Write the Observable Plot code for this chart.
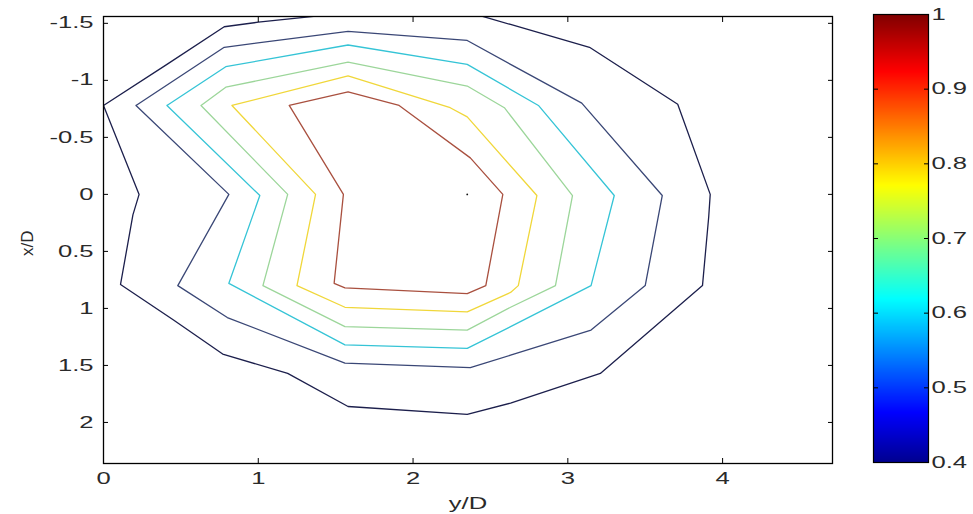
<!DOCTYPE html>
<html>
<head>
<meta charset="utf-8">
<script src="https://cdn.jsdelivr.net/npm/d3@7"></script>
<script src="https://cdn.jsdelivr.net/npm/@observablehq/plot@0.6"></script>
<style>
  html, body { margin: 0; padding: 0; background: #fff; }
  #chart { position: relative; width: 973px; height: 514px; }
  #chart svg { position: absolute; left: 0; top: 0; overflow: visible; }
</style>
</head>
<body>
<div id="chart"></div>
<script>
// ---- tick labels ----
const xTicks = [0, 1, 2, 3, 4];
const yTicks = [-1.5, -1, -0.5, 0, 0.5, 1, 1.5, 2];
const colorbarTicks = [0.4, 0.5, 0.6, 0.7, 0.8, 0.9, 1];

// ---- contour levels ----
const levels = [0.4, 0.5, 0.6, 0.7, 0.8, 0.9];

// ---- contour polylines: [y/D, x/D] ----
const contour040 = [[0.0,-0.78],[0.41,-1.14],[0.78,-1.47],[1.0,-1.51],[1.56,-1.59],[2.35,-1.60],[2.63,-1.49],[3.14,-1.29],[3.71,-0.79],[3.92,0.0],[3.91,0.2],[3.87,0.80],[3.21,1.57],[2.63,1.83],[2.35,1.93],[1.58,1.86],[1.19,1.57],[0.77,1.40],[0.45,1.10],[0.11,0.79],[0.19,0.18],[0.23,0.0],[0.0,-0.78]];
const contour050 = [[0.21,-0.78],[0.78,-1.29],[1.58,-1.43],[2.35,-1.35],[2.63,-1.14],[3.09,-0.80],[3.61,0.01],[3.50,0.80],[3.15,1.19],[2.63,1.41],[2.37,1.52],[1.56,1.48],[0.80,1.08],[0.48,0.80],[0.81,0.0],[0.21,-0.78]];
const contour060 = [[0.41,-0.78],[0.79,-1.12],[1.58,-1.31],[2.35,-1.14],[2.81,-0.78],[3.30,0.01],[3.15,0.80],[2.63,1.16],[2.35,1.35],[1.56,1.32],[0.81,0.78],[1.01,0.01],[0.41,-0.78]];
const contour070 = [[0.63,-0.78],[0.79,-0.94],[1.58,-1.16],[2.35,-0.95],[2.59,-0.76],[3.03,0.01],[2.92,0.80],[2.63,0.99],[2.35,1.19],[1.56,1.16],[1.03,0.80],[1.19,0.0],[0.63,-0.78]];
const contour080 = [[0.83,-0.78],[1.58,-1.04],[2.24,-0.76],[2.35,-0.68],[2.80,0.01],[2.68,0.80],[2.63,0.86],[2.35,1.03],[1.56,0.99],[1.25,0.80],[1.37,0.0],[0.83,-0.78]];
const contour090 = [[1.20,-0.78],[1.58,-0.90],[1.91,-0.78],[1.98,-0.71],[2.37,-0.32],[2.58,0.0],[2.47,0.80],[2.35,0.87],[1.56,0.82],[1.49,0.78],[1.55,0.0],[1.20,-0.78]];
const peak = [[2.35, 0.0]];

const contours = [contour040, contour050, contour060, contour070, contour080, contour090];
const rows = levels.flatMap((lv, i) => contours[i].map(([yd, xd]) => ({level: lv, yd, xd})));

const W = 973, H = 514;
const font = "'Liberation Sans', Arial, Helvetica, sans-serif";
const lineColors = ["#1c1f4c", "#3a4776", "#35c4d6", "#9cd69a", "#f0d73a", "#a9503f"];

const main = Plot.plot({
  width: W, height: H,
  marginLeft: 103, marginRight: 141, marginTop: 16, marginBottom: 51,
  style: {fontFamily: font, fontSize: "16px", color: "#2a2a2a", background: "transparent"},
  x: {domain: [0, 4.71]},
  y: {domain: [-1.56, 2.36], reverse: true},
  color: {type: "ordinal", domain: levels, range: lineColors},
  marks: [
    Plot.line(rows, {x: "yd", y: "xd", z: "level", stroke: "level", strokeWidth: 1.3, clip: true}),
    Plot.dot(peak, {x: d => d[0], y: d => d[1], r: 0.9, fill: "#111", stroke: null}),
    Plot.frame({stroke: "#000", strokeWidth: 1.3}),
    Plot.axisX(xTicks, {anchor: "bottom", tickSize: -5, tickPadding: 14, tickFormat: d => String(d), label: null, stroke: "#000"}),
    Plot.axisX(xTicks, {anchor: "top", tickSize: -5, tickFormat: () => "", label: null, stroke: "#000"}),
    Plot.axisY(yTicks, {anchor: "left", tickSize: -5, tickPadding: 15, tickFormat: d => String(d), label: null, stroke: "#000"}),
    Plot.axisY(yTicks, {anchor: "right", tickSize: -5, tickFormat: () => "", label: null, stroke: "#000"}),
    Plot.text(["y/D"], {text: d => d, frameAnchor: "bottom", lineAnchor: "top", dy: 34, fontSize: 16}),
    Plot.text(["x/D"], {text: d => d, frameAnchor: "left", rotate: -90, dx: -76, dy: 16, fontSize: 17})
  ]
});

const colorbar = Plot.plot({
  width: W, height: H,
  marginLeft: 873, marginRight: 45, marginTop: 14, marginBottom: 52,
  style: {fontFamily: font, fontSize: "16px", color: "#2a2a2a", background: "transparent"},
  x: {domain: [0, 1], axis: null},
  y: {domain: [0.4, 1], axis: null},
  color: {type: "linear", domain: [0.4, 0.4667, 0.619, 0.771, 0.924, 1.0], range: ["#00008f", "#0000ff", "#00ffff", "#ffff00", "#ff0000", "#800000"]},
  marks: [
    Plot.raster({x1: 0, x2: 1, y1: 0.4, y2: 1, width: 1, height: 256, fill: (x, y) => y, imageRendering: "auto"}),
    Plot.frame({stroke: "#000", strokeWidth: 1.2}),
    Plot.axisY(colorbarTicks, {anchor: "right", tickSize: -5, tickPadding: 8, tickFormat: d => String(d), label: null, stroke: "#000"}),
    Plot.axisY(colorbarTicks, {anchor: "left", tickSize: -5, tickFormat: () => "", label: null, stroke: "#000"})
  ]
});

function stretchText(svg, s) {
  svg.querySelectorAll("text").forEach(t => {
    if (!t.textContent) return;
    const tr = t.getAttribute("transform") || "";
    if (tr.includes("rotate")) return;
    t.setAttribute("transform", (tr + " scale(" + s + ",1)").trim());
  });
}
stretchText(main, 1.6);
stretchText(colorbar, 1.6);

const chart = document.getElementById("chart");
chart.appendChild(main);
chart.appendChild(colorbar);
</script>
</body>
</html>
